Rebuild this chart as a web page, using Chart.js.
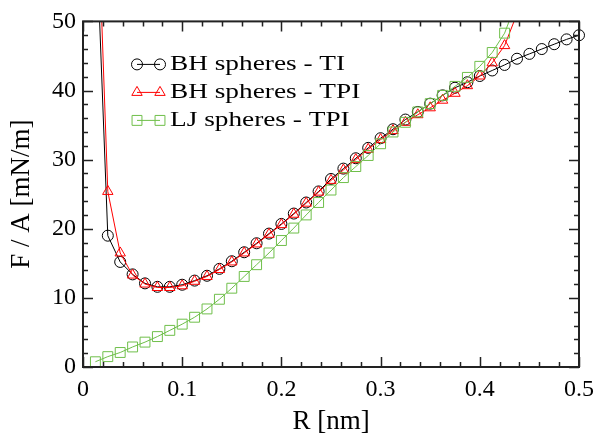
<!DOCTYPE html>
<html><head><meta charset="utf-8">
<script src="https://cdn.jsdelivr.net/npm/chart.js@4.4.0/dist/chart.umd.min.js"></script>
<style>html,body{margin:0;padding:0;background:#fff;}#wrap{width:602px;height:441px;}</style>
</head><body><div id="wrap"><canvas id="c" width="602" height="441"></canvas></div>
<script>
const R = [0.0125, 0.025, 0.0375, 0.05, 0.0625, 0.075, 0.0875, 0.1, 0.1125, 0.125, 0.1375, 0.15, 0.1625, 0.175, 0.1875, 0.2, 0.2125, 0.225, 0.2375, 0.25, 0.2625, 0.275, 0.2875, 0.3, 0.3125, 0.325, 0.3375, 0.35, 0.3625, 0.375, 0.3875, 0.4, 0.4125, 0.425, 0.4375, 0.45, 0.4625, 0.475, 0.4875, 0.5];
const bhTI = [66, 19.0, 15.2, 13.4, 12.1, 11.6, 11.6, 11.9, 12.5, 13.2, 14.2, 15.3, 16.6, 17.9, 19.3, 20.7, 22.2, 23.8, 25.4, 27.2, 28.7, 30.2, 31.7, 33.1, 34.4, 35.8, 36.9, 38.1, 39.3, 40.4, 41.2, 42.1, 42.9, 43.7, 44.6, 45.3, 46.0, 46.7, 47.4, 48.0];
const bhTPI = [76, 25.4, 16.5, 13.3, 12.0, 11.5, 11.5, 11.75, 12.4, 13.1, 14.1, 15.2, 16.5, 17.8, 19.2, 20.6, 22.1, 23.7, 25.3, 27.0, 28.5, 30.0, 31.5, 32.9, 34.2, 35.4, 36.5, 37.5, 38.6, 39.6, 40.7, 42.1, 44.0, 46.5, 51.1, 57];
const ljTPI = [0.76, 1.5, 2.1, 2.9, 3.6, 4.4, 5.3, 6.2, 7.2, 8.4, 9.8, 11.4, 13.1, 14.8, 16.5, 18.3, 20.1, 22.0, 23.8, 25.6, 27.4, 29.0, 30.6, 32.3, 34.0, 35.4, 36.9, 38.1, 39.3, 40.6, 41.9, 43.5, 45.5, 48.3, 53];
const seriesNames = ['BH spheres - TI', 'BH spheres - TPI', 'LJ spheres - TPI'];
const xMajor = [0, 0.1, 0.2, 0.3, 0.4, 0.5];
const xMinorStep = 0.02;
const yMajor = [0, 10, 20, 30, 40, 50];
const yMinorStep = 2;
const xTitle = 'R [nm]';
const yTitle = 'F / A [mN/m]';

const FONT = "'Liberation Serif', 'Times New Roman', serif";
const colors = ['#000000', '#ff0000', '#6fbf4a'];
const styles = ['circle', 'triangle', 'rect'];
const radii = [5.5, 6, 7];

function pts(ys) { return ys.map((y, i) => ({x: R[i], y: y})); }

const frameTicks = {
  id: 'frameTicks',
  afterDatasetsDraw(chart) {
    const {ctx, chartArea: a, scales: {x, y}} = chart;
    ctx.save();
    ctx.strokeStyle = '#222';
    ctx.lineWidth = 1.5;
    ctx.beginPath();
    const minorX = [];
    for (let v = 0; v <= 0.5 + 1e-9; v += xMinorStep) minorX.push(v);
    minorX.forEach(v => {
      const px = Math.round(x.getPixelForValue(v)) + 0.5;
      const major = xMajor.some(m => Math.abs(m - v) < 1e-6);
      const L = major ? 10 : 5;
      ctx.moveTo(px, a.bottom); ctx.lineTo(px, a.bottom - L);
      ctx.moveTo(px, a.top); ctx.lineTo(px, a.top + L);
    });
    for (let v = 0; v <= 50 + 1e-9; v += yMinorStep) {
      const py = Math.round(y.getPixelForValue(v)) + 0.5;
      const major = yMajor.some(m => Math.abs(m - v) < 1e-6);
      const L = major ? 10 : 5;
      ctx.moveTo(a.left, py); ctx.lineTo(a.left + L, py);
      ctx.moveTo(a.right, py); ctx.lineTo(a.right - L, py);
    }
    ctx.stroke();
    ctx.lineWidth = 2;
    ctx.strokeRect(a.left, a.top, a.right - a.left, a.bottom - a.top);
    // legend
    const lx0 = a.left + 54, lx1 = a.left + 77, tx = a.left + 87;
    const ys = [a.top + 43, a.top + 71, a.top + 99];
    seriesNames.forEach((name, i) => {
      const yy = ys[i];
      ctx.strokeStyle = colors[i];
      ctx.lineWidth = 1;
      ctx.beginPath(); ctx.moveTo(lx0, yy); ctx.lineTo(lx1, yy); ctx.stroke();
      ctx.fillStyle = 'rgba(0,0,0,0)';
      [lx0, lx1].forEach(px => {
        Chart.helpers.drawPoint(ctx, {pointStyle: styles[i], radius: radii[i], rotation: 0, borderWidth: 1}, px, yy);
      });
      ctx.save();
      ctx.translate(tx, yy + 6);
      ctx.scale(1.3, 1);
      ctx.font = '21px ' + FONT;
      ctx.textBaseline = 'alphabetic';
      ctx.textAlign = 'left';
      ctx.fillStyle = '#000';
      ctx.fillText(name, 0, 0);
      ctx.restore();
    });
    ctx.restore();
  }
};

const mk = (i, data) => ({
  label: seriesNames[i],
  data: pts(data),
  borderColor: colors[i],
  backgroundColor: 'rgba(0,0,0,0)',
  pointBackgroundColor: 'rgba(0,0,0,0)',
  pointBorderColor: colors[i],
  pointStyle: styles[i],
  pointRadius: radii[i],
  pointBorderWidth: 1,
  borderWidth: 1,
  tension: 0,
  order: 3 - i,
  clip: {left: 10, right: 10, top: 0, bottom: 10}
});

new Chart(document.getElementById('c'), {
  type: 'line',
  data: { datasets: [mk(0, bhTI), mk(1, bhTPI), mk(2, ljTPI)] },
  options: {
    responsive: false,
    devicePixelRatio: 1,
    animation: false,
    layout: { padding: { left: 0, right: 16, top: 18, bottom: 0 } },
    plugins: { legend: { display: false }, tooltip: { enabled: false } },
    scales: {
      x: {
        type: 'linear', min: 0, max: 0.5,
        afterFit(s) { s.height = 74; },
        afterBuildTicks(s) { s.ticks = xMajor.map(v => ({value: v})); },
        grid: { display: false, drawTicks: false },
        border: { display: false },
        ticks: { color: '#000', padding: 8, font: { family: FONT, size: 24 },
                 maxRotation: 0, autoSkip: false,
                 callback: v => v === 0 ? '0' : v.toFixed(1) },
        title: { display: true, text: xTitle, color: '#000', font: { family: FONT, size: 27 }, padding: { top: 0, bottom: 3 } }
      },
      y: {
        type: 'linear', min: 0, max: 50,
        afterFit(s) { s.width = 83; },
        afterBuildTicks(s) { s.ticks = yMajor.map(v => ({value: v})); },
        grid: { display: false, drawTicks: false },
        border: { display: false },
        ticks: { color: '#000', padding: 7, font: { family: FONT, size: 24 },
                 callback: v => String(v) },
        title: { display: true, text: yTitle, color: '#000', font: { family: FONT, size: 27 }, padding: { top: 6, bottom: 0 } }
      }
    }
  },
  plugins: [frameTicks]
});
</script>
</body></html>
